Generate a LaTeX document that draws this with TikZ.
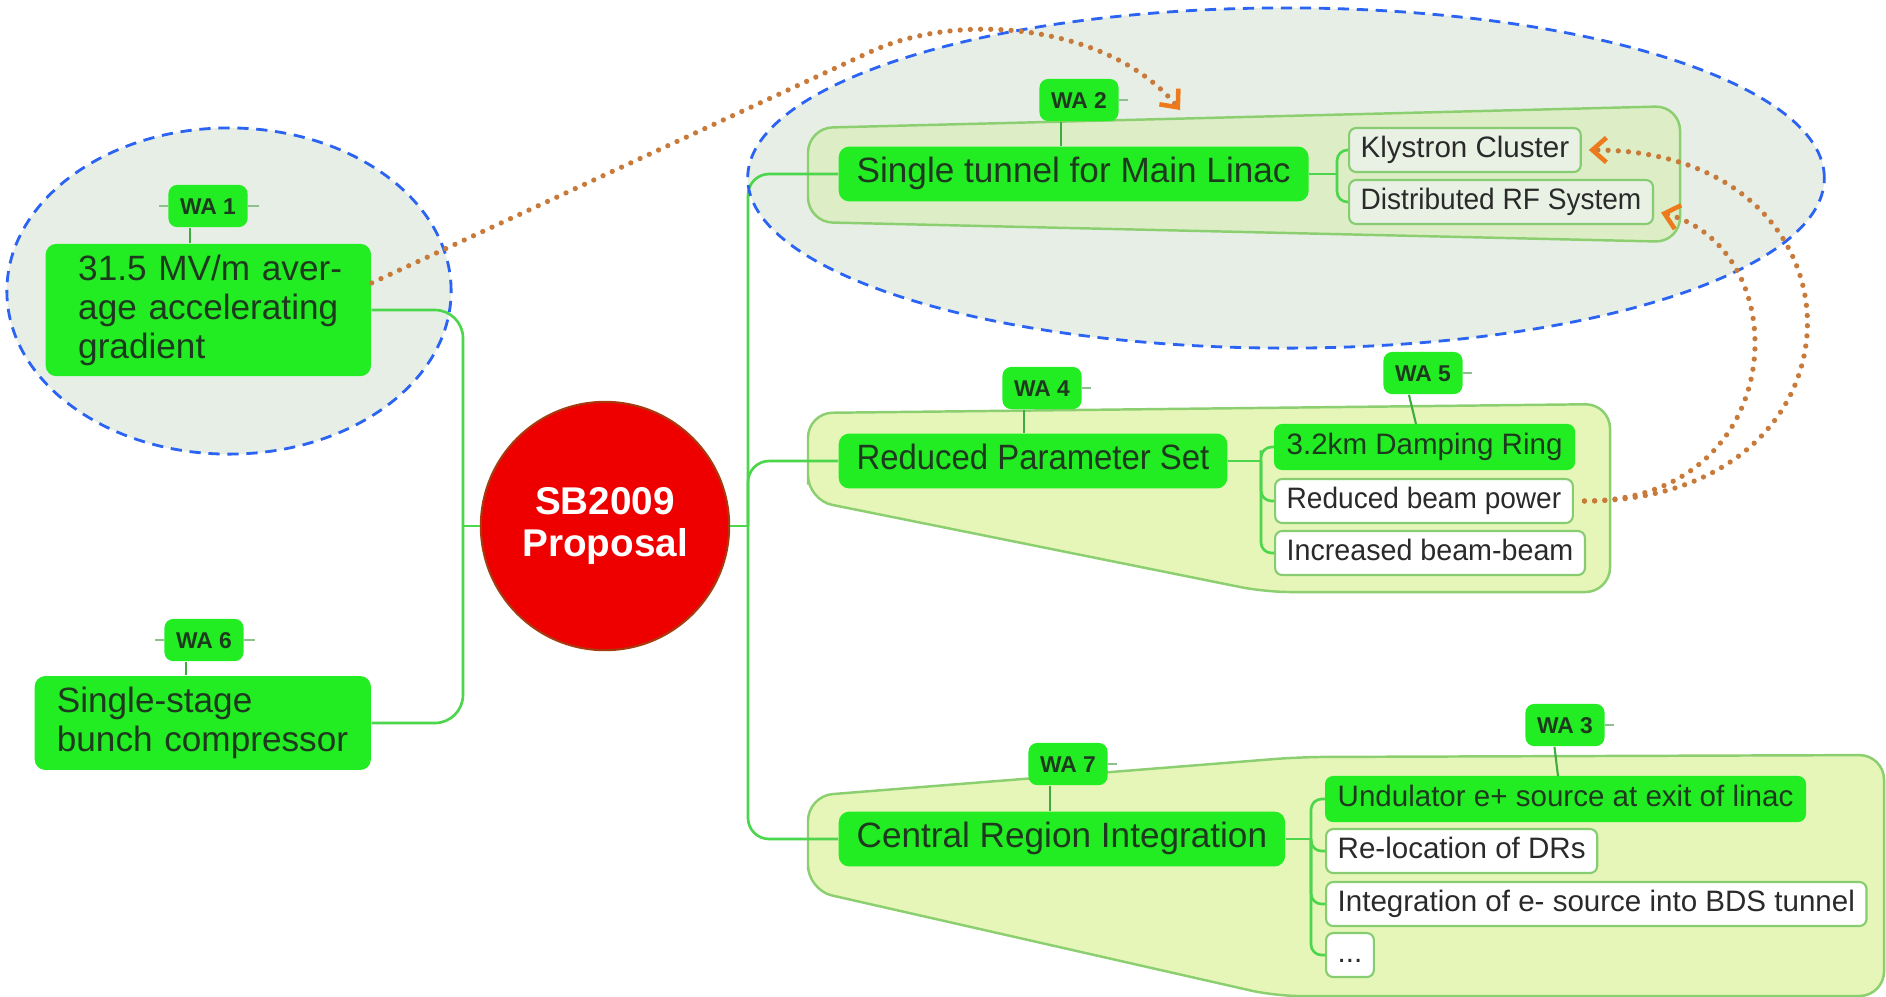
\documentclass[tikz,border=0pt]{standalone}
\usepackage{graphicx}
\usepackage{fontspec}
\setmainfont{Liberation Sans}
\usetikzlibrary{arrows.meta,calc}
\definecolor{mmgreen}{HTML}{22EC22}
\definecolor{mmtext}{HTML}{1E3A1E}
\definecolor{treeline}{HTML}{4CD64C}
\definecolor{grpfill}{HTML}{E6F6B8}
\definecolor{topgrpfill}{HTML}{DDEDC6}
\definecolor{grpdraw}{HTML}{8CCF70}
\definecolor{ellfill}{HTML}{E6EEE6}
\definecolor{elldraw}{HTML}{2B63F2}
\definecolor{subdraw}{HTML}{86CC70}
\definecolor{topsubfill}{HTML}{E9F1E5}
\definecolor{subtext}{HTML}{2A2A2A}
\definecolor{dotcol}{HTML}{C87A3A}
\definecolor{arrcol}{HTML}{EE7A1E}
\definecolor{hubred}{HTML}{EE0000}
\definecolor{hubdraw}{HTML}{A83A10}
\definecolor{stubcol}{HTML}{8FBF8F}
\begin{document}
\begin{tikzpicture}[x=0.01cm,y=-0.01cm,
  mainbox/.style={fill=mmgreen, rounded corners=3pt, text=mmtext,
    font=\fontsize{10pt}{11.1pt}\selectfont, inner xsep=5.1pt, inner ysep=0pt,
    minimum height=15.6pt, anchor=west},
  oneline/.style={text height=7.2pt, text depth=2.1pt},
  subbox/.style={draw=subdraw, line width=0.6pt, rounded corners=2pt, fill=white,
    text=subtext, font=\fontsize{8.4pt}{10pt}\selectfont, inner xsep=3.3pt,
    inner ysep=0pt, minimum height=12.5pt, anchor=west, text height=6.1pt, text depth=1.8pt},
  subgreen/.style={subbox, fill=mmgreen, draw=mmgreen, text=mmtext},
  subtop/.style={subbox, fill=topsubfill},
  wabox/.style={fill=mmgreen, rounded corners=2.5pt, text=mmtext,
    font=\bfseries\fontsize{6.5pt}{7pt}\selectfont, inner xsep=3.3pt, inner ysep=0pt,
    minimum height=12pt, text height=4.7pt, text depth=0pt},
  hub/.style={circle, fill=hubred, draw=hubdraw, line width=0.6pt, minimum size=70.6pt,
    inner sep=0pt, text=white, font=\bfseries\fontsize{11pt}{12.2pt}\selectfont, align=center},
  tree/.style={draw=treeline, line width=0.75pt},
  waline/.style={draw=treeline!80!black, line width=0.6pt},
  stub/.style={draw=stubcol, line width=0.5pt},
  grp/.style={draw=grpdraw, line width=0.7pt, rounded corners=7pt},
  elldash/.style={draw=elldraw, line width=0.8pt, dash pattern=on 3.2pt off 2.2pt},
  dotline/.style={draw=dotcol, line width=1.5pt, line cap=round, dash pattern=on 0pt off 2.9pt},
  tip/.style={-{Straight Barb[length=4pt,width=7pt,line width=1.3pt,color=arrcol]}}
]
\useasboundingbox[fill=white] (0,0) rectangle (1886,996);

% ellipse fills
\fill[ellfill] (229,291) ellipse [x radius=2.22cm, y radius=1.63cm];
\fill[ellfill] (1286,178) ellipse [x radius=5.38cm, y radius=1.70cm];

% group shapes
\draw[grp, fill=topgrpfill] (808,175) -- (808,128) -- (1680,106) -- (1680,242) -- (808,222) -- cycle;
\draw[grp, fill=grpfill] (808,460) -- (808,413) -- (1610,404) -- (1610,592) -- (1265,592) -- (808,500) -- cycle;
\draw[grp, fill=grpfill] (808,845) -- (808,796) -- (1300,757) -- (1884,755) -- (1884,996) -- (1275,996) -- (808,890) -- cycle;

% central topic
\node[hub] (hub) at (605,526) {SB2009\\Proposal};

% left topics
\node[mainbox, text width=80pt, align=left, inner xsep=6.25pt, minimum height=37.6pt] (g1) at (45,310)
  {\hspace*{3pt}31.5 MV/m aver-\\\hspace*{3pt}age accelerating\\\hspace*{3pt}gradient};
\node[mainbox, text width=83pt, align=left, inner xsep=6.3pt, minimum height=26.7pt] (g6) at (34,723)
  {Single-stage\\bunch compressor};

% right topics
\node[mainbox, oneline] (st) at (838,174) {Single tunnel for Main Linac};
\node[mainbox, oneline] (rps) at (838,461) {\scalebox{0.935}[1]{Reduced Parameter Set}};
\node[mainbox, oneline] (cri) at (838,839) {Central Region Integration};

% subtopics
\node[subtop] (kly) at (1348,150) {Klystron Cluster};
\node[subtop] (drf) at (1348,202) {\scalebox{0.95}[1]{Distributed RF System}};
\node[subgreen] (dr) at (1274,447) {3.2km Damping Ring};
\node[subbox] (rbp) at (1274,501) {\scalebox{0.95}[1]{Reduced beam power}};
\node[subbox] (inc) at (1274,553) {\scalebox{0.97}[1]{Increased beam-beam}};
\node[subgreen] (und) at (1325,799) {Undulator e+ source at exit of linac};
\node[subbox] (rel) at (1325,851) {Re-location of DRs};
\node[subbox] (intg) at (1325,904) {Integration of e- source into BDS tunnel};
\node[subbox] (more) at (1325,955) {...};

% WA labels
\node[wabox] (wa1) at (208,206) {WA 1};
\node[wabox] (wa6) at (204,640) {WA 6};
\node[wabox] (wa2) at (1079,100) {WA 2};
\node[wabox] (wa4) at (1042,388) {WA 4};
\node[wabox] (wa5) at (1423,373) {WA 5};
\node[wabox] (wa7) at (1068,764) {WA 7};
\node[wabox] (wa3) at (1565,725) {WA 3};

% trunk coordinates
\coordinate (lt) at (463,526);
\coordinate (rt) at (748,526);
\coordinate (b1) at (1337,174);
\coordinate (b2) at (1261,461);
\coordinate (b3) at (1311,839);

% tree connectors
\draw[tree] (hub.west) -- (lt);
\draw[tree] (hub.east) -- (rt);
\draw[tree, rounded corners=8pt] (g1.east) -| (lt) |- (g6.east);
\draw[tree, rounded corners=6pt] (st.west) -| (rt) |- (cri.west);
\draw[tree, rounded corners=6pt] (rt) |- (rps.west);

\draw[tree] (st.east) -- (b1);
\draw[tree, rounded corners=3pt] (kly.west) -| (b1) |- (drf.west);
\draw[tree] (rps.east) -- (b2);
\draw[tree, rounded corners=3pt] (dr.west) -| (b2) |- (inc.west);
\draw[tree, rounded corners=3pt] (b2) |- (rbp.west);
\draw[tree] (cri.east) -- (b3);
\draw[tree, rounded corners=3pt] (und.west) -| (b3) |- (more.west);
\draw[tree, rounded corners=3pt] (b3) |- (rel.west);
\draw[tree, rounded corners=3pt] (b3) |- (intg.west);

% WA connectors
\draw[waline] ([xshift=-5pt]wa1.south) -- ([xshift=-5pt]wa1.south |- g1.north);
\draw[waline] ([xshift=-5pt]wa6.south) -- ([xshift=-5pt]wa6.south |- g6.north);
\draw[waline] ([xshift=-5pt]wa2.south) -- ([xshift=-5pt]wa2.south |- st.north);
\draw[waline] ([xshift=-5pt]wa4.south) -- ([xshift=-5pt]wa4.south |- rps.north);
\draw[waline] ([xshift=-4pt]wa5.south) -- ([xshift=-2pt]wa5.south |- dr.north);
\draw[waline] ([xshift=-5pt]wa7.south) -- ([xshift=-5pt]wa7.south |- cri.north);
\draw[waline] ([xshift=-3pt]wa3.south) -- ([xshift=-2pt]wa3.south |- und.north);

% WA stubs
\draw[stub] (wa1.west) -- ++(-9,0);
\draw[stub] (wa1.east) -- ++(11,0);
\draw[stub] (wa6.west) -- ++(-9,0);
\draw[stub] (wa6.east) -- ++(11,0);
\draw[stub] (wa2.east) -- ++(9,0);
\draw[stub] (wa4.east) -- ++(9,0);
\draw[stub] (wa5.east) -- ++(9,0);
\draw[stub] (wa7.east) -- ++(9,0);
\draw[stub] (wa3.east) -- ++(9,0);

% dashed ellipse borders
\draw[elldash] (229,291) ellipse [x radius=2.22cm, y radius=1.63cm];
\draw[elldash] (1286,178) ellipse [x radius=5.38cm, y radius=1.70cm];

% dotted relations
\coordinate (c2tip) at (1180,110);
\draw[dotline, tip] ([yshift=7.7pt]g1.east) -- (870,52) .. controls (960,10) and (1110,25) .. (c2tip);
\draw[dotline, tip] ([xshift=3pt]rbp.east) .. controls (1880,501) and (1880,150) .. ([xshift=2pt]kly.east);
\draw[dotline, tip] ([xshift=3pt]rbp.east) .. controls (1790,501) and (1800,250) .. ([xshift=2pt,yshift=-3pt]drf.east);
\end{tikzpicture}
\end{document}
